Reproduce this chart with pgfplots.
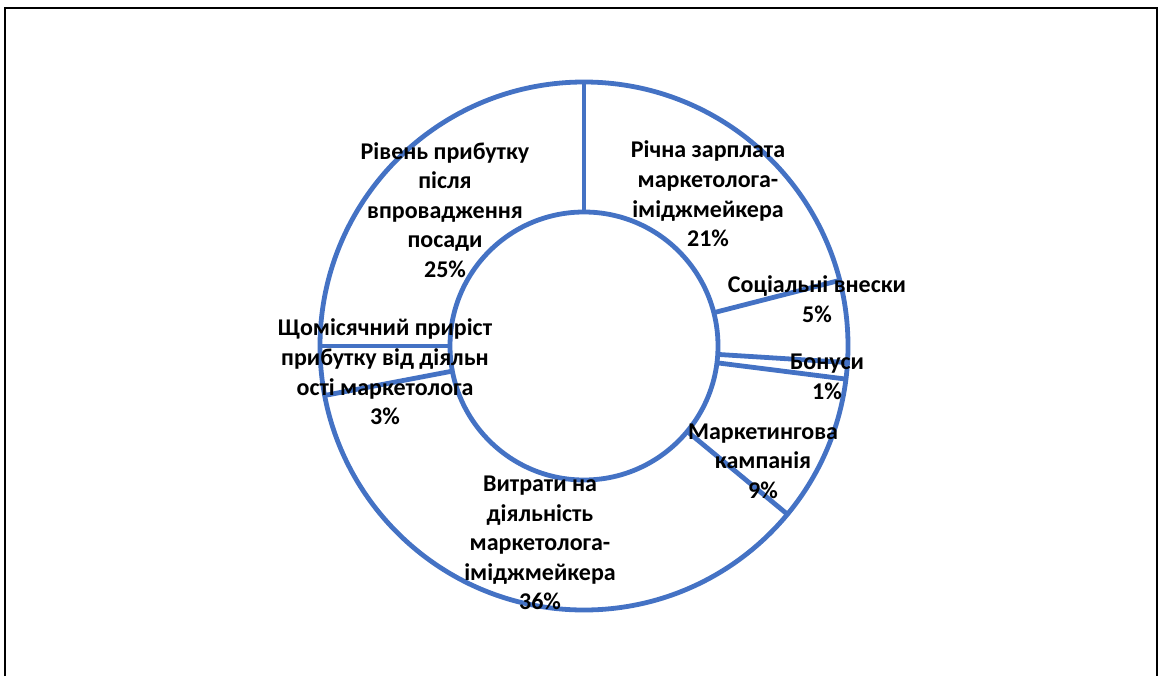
\documentclass[border=0pt]{standalone}
\usepackage{pgfplots}
\pgfplotsset{compat=1.18}
\usepackage{fontspec}
\setmainfont{Carlito}
\definecolor{ringblue}{HTML}{4472C4}
\begin{document}
\begin{tikzpicture}
\begin{axis}[
  width=580pt, height=338pt, scale only axis,
  xmin=0, xmax=1160, ymin=0, ymax=676,
  hide axis, clip=false,
]
% outer frame (cut off at bottom)
\draw[black, line width=1.3pt] (axis cs:5,0) -- (axis cs:5,668) -- (axis cs:1157,668) -- (axis cs:1157,0);
% rings
\draw[ringblue, line width=2.4pt] (axis cs:584,330) circle[radius=264];
\draw[ringblue, line width=2.4pt] (axis cs:584,330) circle[radius=134];
% separators between the segments (shares in %, clockwise from 12 o'clock)
\pgfmathsetmacro\cum{0}
\pgfplotsforeachungrouped \v in {21,5,1,9,36,3,25} {
  \pgfmathsetmacro\ang{90-3.6*\cum}
  \pgfmathsetmacro\xa{584+134*cos(\ang)}
  \pgfmathsetmacro\ya{330+134*sin(\ang)}
  \pgfmathsetmacro\xb{584+264*cos(\ang)}
  \pgfmathsetmacro\yb{330+264*sin(\ang)}
  \edef\temp{\noexpand\addplot[ringblue, line width=2.4pt, no marks] coordinates {(\xa,\ya) (\xb,\yb)};}
  \temp
  \pgfmathsetmacro\cum{\cum+\v}
}
\tikzset{lbl/.style={font=\bfseries\fontsize{12}{14.8}\selectfont, align=center, inner sep=0pt}}
\node[lbl] at (axis cs:445,466) {Рівень прибутку\\після\\впровадження\\посади\\25\%};
\node[lbl] at (axis cs:708,482) {Річна зарплата\\маркетолога-\\іміджмейкера\\21\%};
\node[lbl] at (axis cs:817,377) {Соціальні внески\\5\%};
\node[lbl] at (axis cs:827,299) {Бонуси\\1\%};
\node[lbl] at (axis cs:763,215) {Маркетингова\\кампанія\\9\%};
\node[lbl] at (axis cs:540,133) {Витрати на\\діяльність\\маркетолога-\\іміджмейкера\\36\%};
\node[lbl] at (axis cs:385,304) {Щомісячний приріст\\прибутку від діяльн\\ості маркетолога\\3\%};
\end{axis}
\pgfresetboundingbox
\useasboundingbox (0,0) rectangle (580pt,338pt);
\end{tikzpicture}
\end{document}
